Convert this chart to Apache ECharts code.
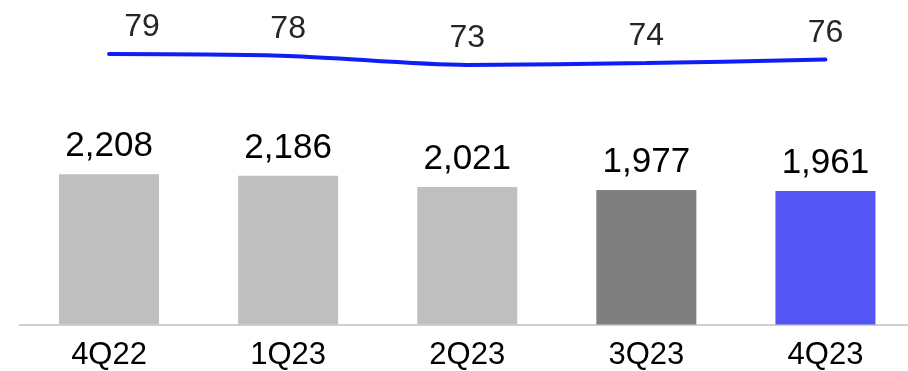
<!DOCTYPE html>
<html>
<head>
<meta charset="utf-8">
<script src="https://cdn.jsdelivr.net/npm/echarts@6/dist/echarts.min.js"></script>
<style>
html,body{margin:0;padding:0;background:#fff;overflow:hidden;width:908px;height:371px;}
#c{width:915px;height:371px;}
</style>
</head>
<body>
<div id="c"></div>
<script>
const categories = ['4Q22', '1Q23', '2Q23', '3Q23', '4Q23'];
const barValues = [2208, 2186, 2021, 1977, 1961];
const barColors = ['#BFBFBF', '#BFBFBF', '#BFBFBF', '#7F7F7F', '#5555F6'];
const lineValues = [79, 78, 73, 74, 76];

const chart = echarts.init(document.getElementById('c'), null, {renderer: 'canvas'});
const font = 'Liberation Sans, Arial, sans-serif';

chart.setOption({
  animation: false,
  grid: {left: 19.5, right: 0, top: 0, bottom: 46.5, containLabel: false},
  xAxis: {
    type: 'category',
    data: categories,
    boundaryGap: true,
    axisLine: {show: true, lineStyle: {color: '#D0D0D0', width: 2}},
    axisTick: {show: false},
    axisLabel: {color: '#000', fontSize: 31, fontFamily: font, margin: 15}
  },
  yAxis: [
    {type: 'value', min: 0, max: 4770, show: false, splitLine: {show: false}},
    {type: 'value', min: -71, max: 109, show: false, splitLine: {show: false}}
  ],
  series: [
    {
      type: 'bar',
      yAxisIndex: 0,
      barWidth: 100,
      data: barValues.map((v, i) => ({value: v, itemStyle: {color: barColors[i]}})),
      label: {
        show: true,
        position: 'top',
        distance: 10,
        color: '#000',
        fontSize: 35,
        fontFamily: font,
        formatter: p => p.value.toLocaleString('en-US')
      }
    },
    {
      type: 'line',
      yAxisIndex: 1,
      smooth: 0.3,
      symbol: 'circle',
      symbolSize: 1,
      showSymbol: true,
      showAllSymbol: true,
      itemStyle: {color: 'rgba(0,0,0,0)'},
      lineStyle: {color: '#0E1EF4', width: 4, cap: 'round'},
      data: lineValues.map((v, i) => i === 0 ? {value: v, label: {offset: [33, 0]}} : v),
      label: {
        show: true,
        position: 'top',
        distance: 10,
        color: '#262626',
        fontSize: 32,
        fontFamily: font
      }
    }
  ]
});
</script>
</body>
</html>
